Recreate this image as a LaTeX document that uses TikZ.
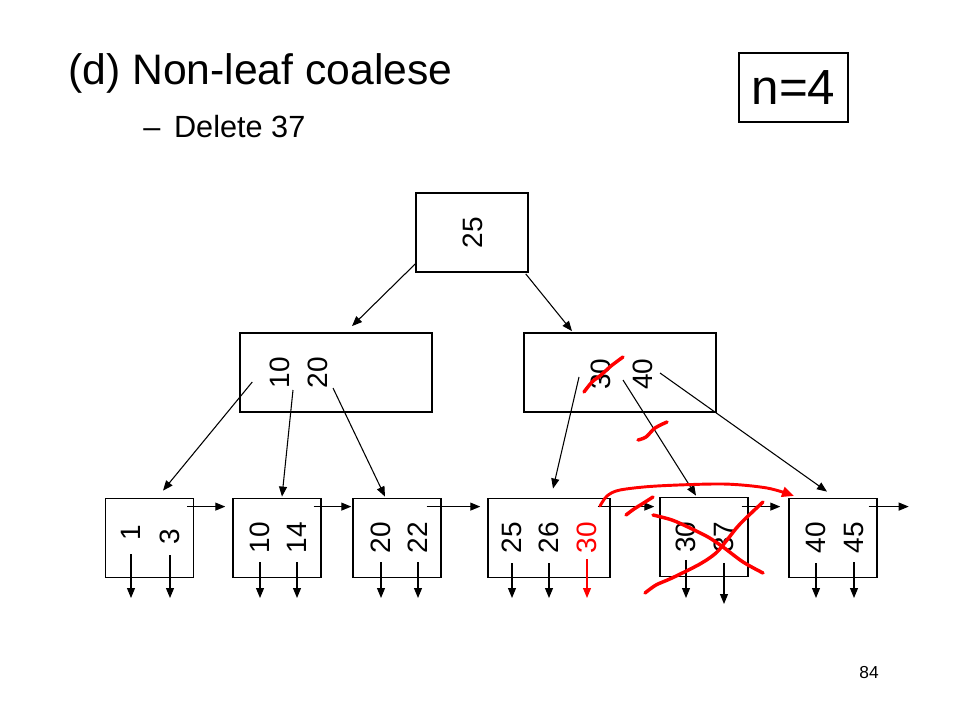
\documentclass[tikz,border=0pt]{standalone}
\usepackage{fontspec}
\setmainfont{Liberation Sans}
\usetikzlibrary{calc,arrows.meta}

\begin{document}
\begin{tikzpicture}[x=0.75pt,y=-0.75pt,
	box/.style={draw,line width=1.1pt,inner sep=0pt,minimum height=59.5pt},
	key/.style={rotate=90,inner sep=0pt,font=\fontsize{21}{21}\selectfont},
	ptr/.style={line width=0.8pt,-{Triangle[length=7.5pt,width=6pt]}},
	ink/.style={red,line width=2.6pt,line cap=round,line join=round}]
				\useasboundingbox (0,0) rectangle (960,720);
				
				\node[anchor=base west,inner sep=0pt,font=\fontsize{32}{32}\selectfont] (title) at (68,85) {(d) Non-leaf coalese};
				\node[anchor=base west,inner sep=0pt,font=\fontsize{23}{23}\selectfont] (sub) at (143,138) {–\hspace{0.45em}Delete 37};
				\node[draw,line width=1.1pt,minimum width=81.75pt,minimum height=51.75pt,inner sep=0pt,font=\fontsize{37}{37}\selectfont] (order) at (793.5,87.5) {n=4};
				\node[font=\fontsize{13}{13}\selectfont,inner sep=0pt] (page) at (869,673) {84};
				
				\node[box,minimum width=84pt] (root) at (472,232.5) {};
				\node[box,minimum width=144pt] (inA) at (336,372.5) {};
				\node[box,minimum width=144pt] (inB) at (620,372.5) {};
				\node[box,minimum width=66pt] (lf1) at (149.5,538) {};
				\node[box,minimum width=66pt] (lf2) at (277,538) {};
				\node[box,minimum width=66pt] (lf3) at (397,538) {};
				\node[box,minimum width=91.5pt] (lf4) at (549,538) {};
				\node[box,minimum width=66pt] (lf5) at (704,537) {};
				\node[box,minimum width=66pt] (lf6) at (833,538) {};
				
				\node[key] (k25) at (472.5,232.5) {25};
				\node[key] (a10) at (280,372.5) {10};
				\node[key] (a20) at (318,372.5) {20};
				\node[key] (b30) at (601,374) {30};
				\node[key] (b40) at (643,374) {40};
				
				\node[key] (c1) at (131,533) {1};
				\node[key] (c3) at (170,537) {3};
				\node[key] (c10) at (260,537.5) {10};
				\node[key] (c14) at (297,537.5) {14};
				\node[key] (c20) at (381,537.5) {20};
				\node[key] (c22) at (418,537.5) {22};
				\node[key] (c25) at (512,537.5) {25};
				\node[key] (c26) at (549,537.5) {26};
				\node[key,red] (c30) at (587,537.5) {30};
				\node[key] (d30) at (686,537) {30};
				\node[key] (d37) at (724,537) {37};
				\node[key] (e40) at (816,537.5) {40};
				\node[key] (e45) at (854,537.5) {45};
				
				\coordinate (base) at (0,598);
				
				\draw[ptr] ($(root.south west)+(0,-9)$) -- ($(inA.north)+(16,-6)$);
				\draw[ptr] ($(root.south east)+(-3,1)$) -- ($(inB.north)+(-48,-1)$);
				
				\draw[ptr] ($(inA.west)+(13,9.5)$) -- ($(lf1.north)+(13.5,-7)$);
				\draw[ptr] ($(a10)+(13,17.5)$) -- ($(lf2.north)+(5,-1)$);
				\draw[ptr] ($(a20)+(15,15.5)$) -- ($(lf3.north)+(-12,-1)$);
				\draw[ptr] ($(b30)+(-22,3)$) -- ($(lf4.north)+(4,-9)$);
				\draw[ptr] ($(b30)+(22,6)$) -- ($(lf5.north)+(-8,-1)$);
				\draw[ptr] ($(b40)+(17,-1)$) -- ($(lf6.north)+(-6,-6)$);
				
				\draw[ptr] ($(lf1.north east)+(-7,9)$) -- ($(lf2.north west)+(-7,9)$);
				\draw[ptr] ($(lf2.north east)+(-8,9)$) -- ($(lf3.north west)+(-1,9)$);
				\draw[ptr] ($(lf3.north east)+(-15,9)$) -- ($(lf4.north west)+(-7,9)$);
				\draw[ptr] ($(lf4.north east)+(-13,9)$) -- ($(lf5.north west)+(-5,10)$);
				\draw[ptr] ($(lf5.north east)+(-7,10)$) -- ($(lf6.north west)+(-8,9)$);
				\draw[ptr] ($(lf6.north east)+(-9,9)$) -- ++(40,0);
				
				\draw[ptr] ($(c1.west)+(0,13)$) -- (c1.west |- base);
				\draw[ptr] ($(c3.west)+(0,10)$) -- (c3.west |- base);
				\draw[ptr] ($(c10.west)+(0,9)$) -- (c10.west |- base);
				\draw[ptr] ($(c14.west)+(0,9)$) -- (c14.west |- base);
				\draw[ptr] ($(c20.west)+(0,9)$) -- (c20.west |- base);
				\draw[ptr] ($(c22.west)+(0,9)$) -- (c22.west |- base);
				\draw[ptr] ($(c25.west)+(0,10)$) -- (c25.west |- base);
				\draw[ptr] ($(c26.west)+(0,10)$) -- (c26.west |- base);
				\draw[ptr,red] ($(c30.west)+(0,6)$) -- (c30.west |- base);
				\draw[ptr] ($(d30.west)+(0,7)$) -- (d30.west |- base);
				\draw[ptr] ($(d37.west)+(0,10)$) -- ($(d37.west |- base)+(0,6)$);
				\draw[ptr] ($(e40.west)+(0,10)$) -- (e40.west |- base);
				\draw[ptr] ($(e45.west)+(0,9)$) -- (e45.west |- base);
				
				\draw[ink] plot[smooth] coordinates {(584,392) (592,382) (601,375) (611,366) (623,357)};
				\draw[ink] plot[smooth] coordinates {(638,440) (646,437) (655,428) (667,422)};
				\draw[ink,line width=2.2pt,-{Triangle[length=9pt,width=7.5pt]}] plot[smooth] coordinates {(600,506) (607,496) (620,490) (657,486) (723,484) (767,488) (794,496)};
				\draw[ink] plot[smooth] coordinates {(626,515) (634,509) (642,504) (653,497)};
				\draw[ink] plot[smooth] coordinates {(653,515) (672,520) (690,528) (708,537) (723,547) (743,562) (763,573)};
				\draw[ink] plot[smooth] coordinates {(645,593) (656,585) (672,578) (700,564) (716,553) (727,540) (740,524) (763,502)};
			\end{tikzpicture}
\end{document}
